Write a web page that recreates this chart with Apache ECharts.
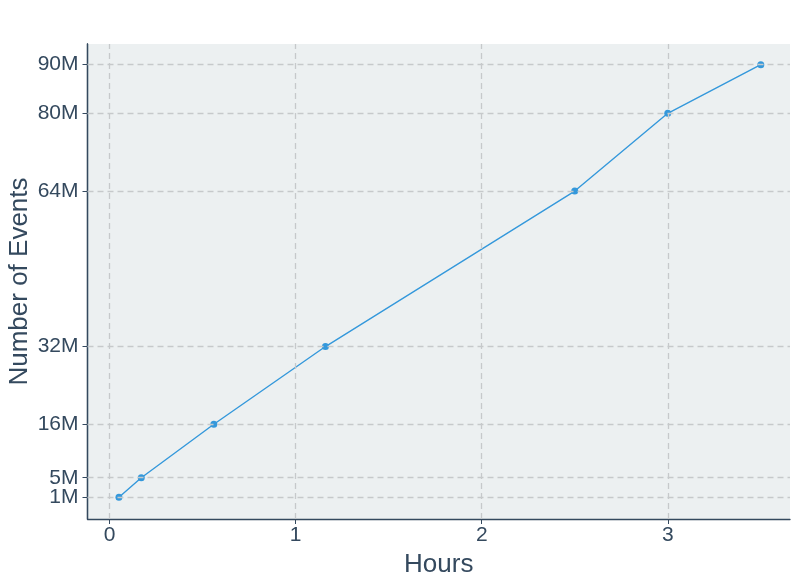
<!DOCTYPE html>
<html>
<head>
<meta charset="utf-8">
<script src="https://cdn.jsdelivr.net/npm/echarts@6/dist/echarts.min.js"></script>
<style>html,body{margin:0;padding:0;background:#fff}#c{width:800px;height:583px}</style>
</head>
<body>
<div id="c"></div>
<script>
var hours = [0.05, 0.17, 0.56, 1.16, 2.5, 3.0, 3.5];
var eventsM = [1, 5, 16, 32, 64, 80, 90];
var yTicks = [1, 5, 16, 32, 64, 80, 90];
var xTicks = [0, 1, 2, 3];

var textColor = '#34495e';
var font = 'Liberation Sans, Arial, sans-serif';
var gridStyle = {color: '#c6c9cb', width: 1.3, type: [6, 4]};
var yMin = -3.49, yMax = 94.26;

// split y ticks over two overlaid axes so that close labels (1M / 5M) are not auto-hidden
var yTicksA = yTicks.filter(function (v, i) { return i % 2 === 0; });
var yTicksB = yTicks.filter(function (v, i) { return i % 2 === 1; });

function yAxisDef(ticks, withName) {
  return {
    type: 'value', min: yMin, max: yMax, position: 'left', offset: 0,
    name: withName ? 'Number of Events' : '', nameLocation: 'middle', nameGap: 55, nameMoveOverlap: false,
    nameTextStyle: {fontSize: 26, color: textColor, fontFamily: font},
    axisLine: {show: true, onZero: false, lineStyle: {color: textColor, width: 1.3}},
    axisTick: {show: true, length: 5, customValues: ticks, lineStyle: {color: textColor}},
    axisLabel: {customValues: ticks, fontSize: 21, color: textColor, fontFamily: font, margin: 9,
      hideOverlap: false, showMinLabel: true, showMaxLabel: true, padding: [4, 0, 0, 0],
      formatter: function (v) { return v + 'M'; }},
    splitLine: {show: false}
  };
}

var chart = echarts.init(document.getElementById('c'), null, {renderer: 'canvas'});
chart.setOption({
  animation: false,
  backgroundColor: '#ffffff',
  grid: {left: 87.5, right: 10, top: 44, bottom: 64, show: true, backgroundColor: '#ecf0f1', borderWidth: 0,
    containLabel: false, outerBoundsMode: 'none'},
  xAxis: {
    type: 'value', min: -0.119, max: 3.657,
    name: 'Hours', nameLocation: 'middle', nameGap: 33, nameMoveOverlap: false,
    nameTextStyle: {fontSize: 26, color: textColor, fontFamily: font},
    axisLine: {show: true, onZero: false, lineStyle: {color: textColor, width: 1.3}},
    axisTick: {show: true, length: 5, customValues: xTicks, lineStyle: {color: textColor}},
    axisLabel: {customValues: xTicks, fontSize: 21, color: textColor, fontFamily: font, margin: 6,
      hideOverlap: false, showMinLabel: true, showMaxLabel: true},
    splitLine: {show: false}
  },
  yAxis: [yAxisDef(yTicksA, true), yAxisDef(yTicksB, false)],
  series: [
    {
      type: 'line', data: [], z: 1, silent: true, yAxisIndex: 0,
      markLine: {
        silent: true, symbol: ['none', 'none'], label: {show: false},
        lineStyle: gridStyle, animation: false,
        data: yTicks.map(function (v) { return {yAxis: v}; })
          .concat(xTicks.map(function (v) { return {xAxis: v}; }))
      }
    },
    {
      type: 'line', z: 3, yAxisIndex: 0,
      data: hours.map(function (h, i) { return [h, eventsM[i]]; }),
      symbol: 'circle', symbolSize: 7, showSymbol: true,
      lineStyle: {color: '#3498db', width: 1.4},
      itemStyle: {color: '#3498db', borderWidth: 0}
    }
  ]
});
</script>
</body>
</html>
